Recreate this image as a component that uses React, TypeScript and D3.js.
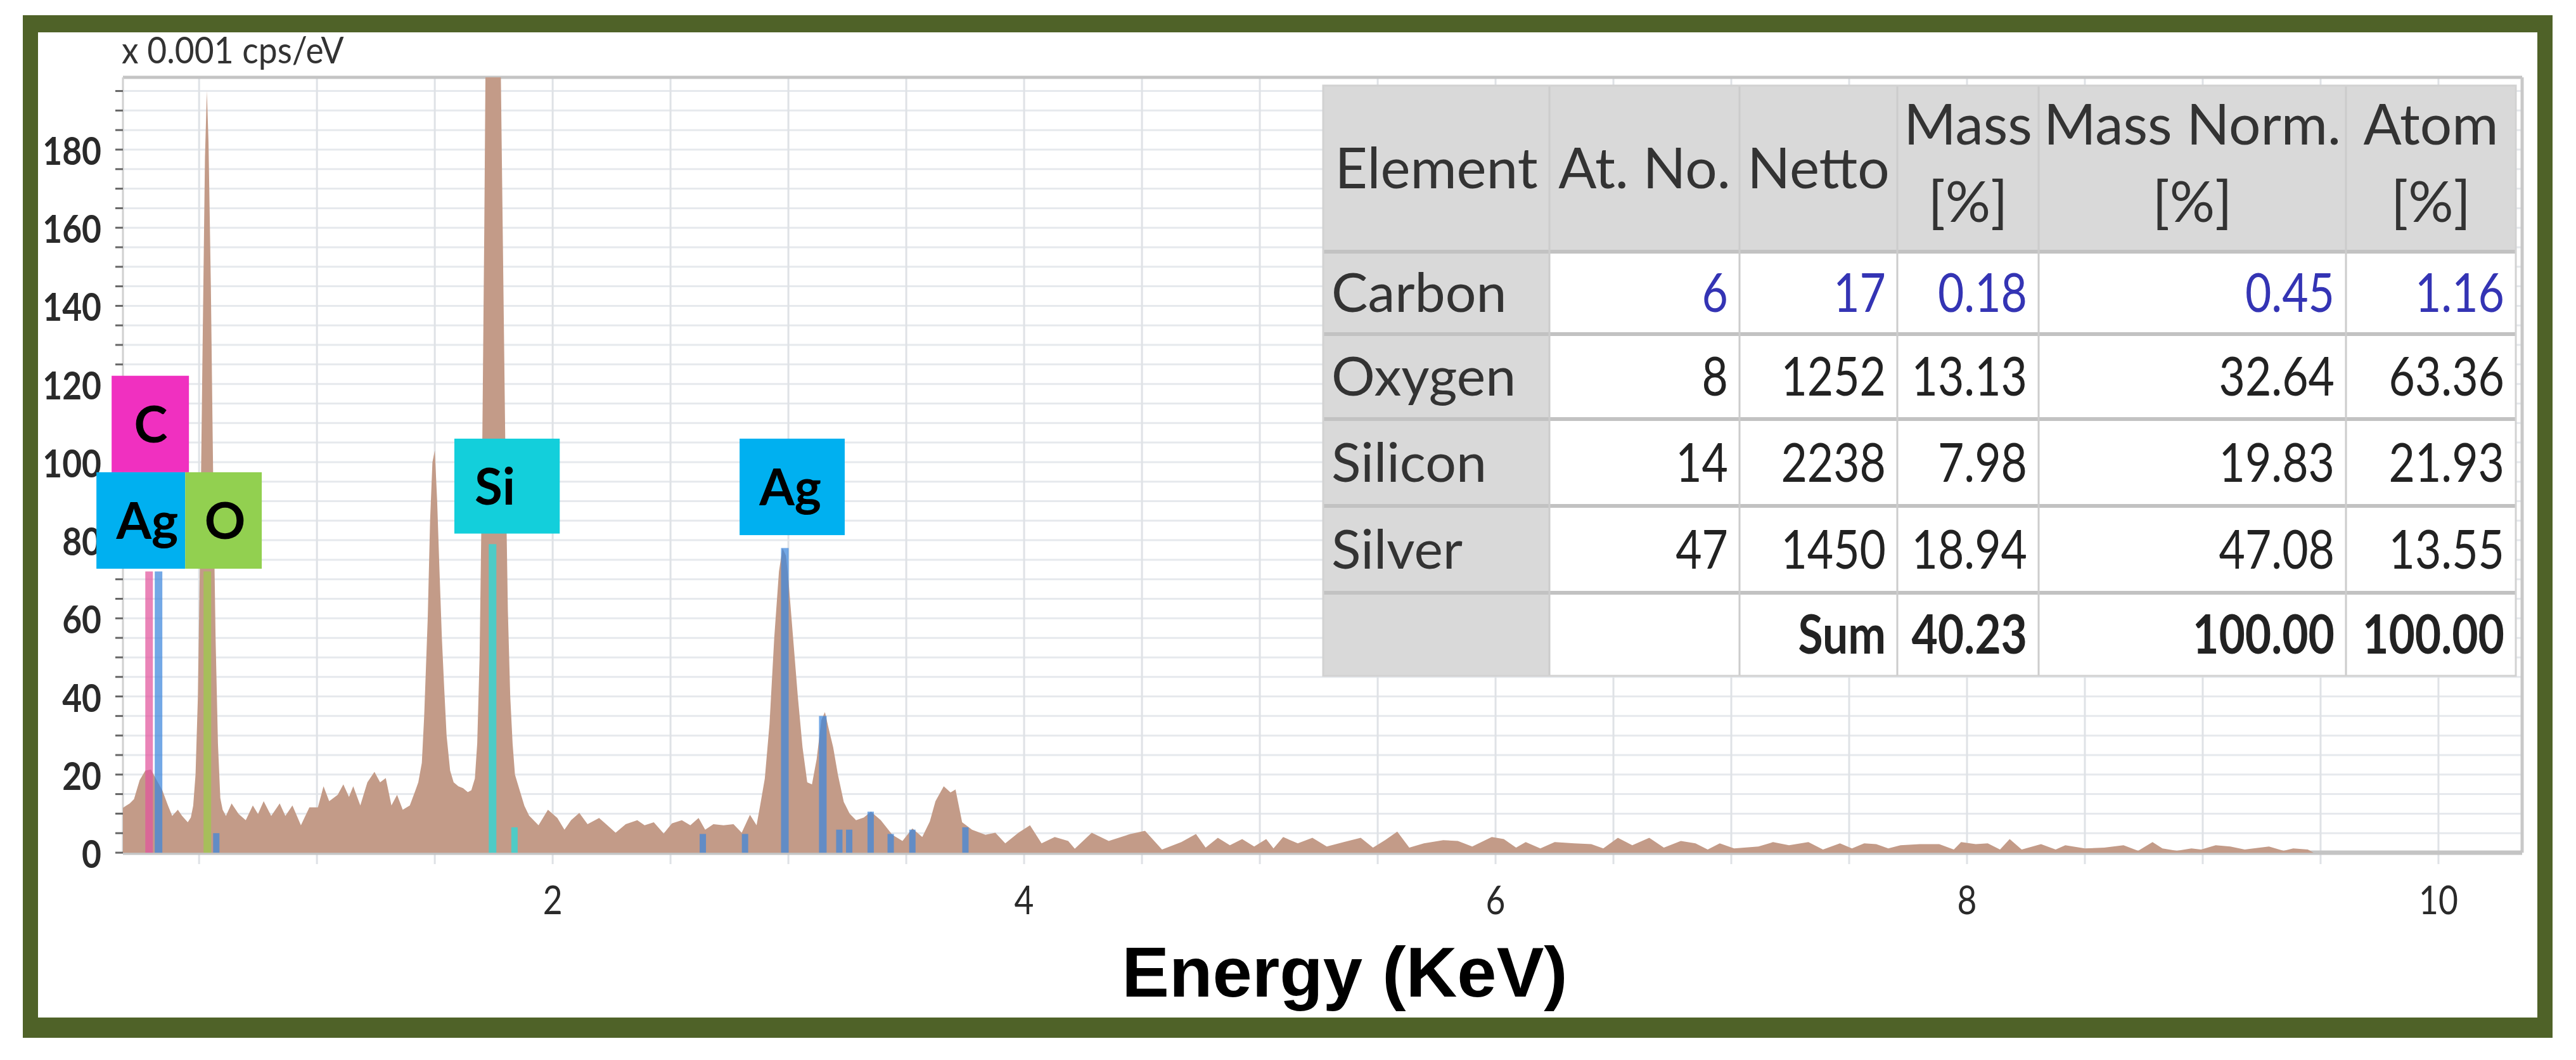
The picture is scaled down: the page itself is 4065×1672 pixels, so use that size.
import React from "react";
import * as d3 from "d3";

// ---------- DATA ----------
// EDS spectrum [energy keV, counts x0.001 cps/eV]
const spectrum: [number, number][] = [
  [0.177, 11.5], [0.19, 12], [0.206, 12.6], [0.224, 13.7], [0.248, 18.6], [0.272, 21], [0.296, 21.3], [0.32, 18.6],
  [0.344, 16], [0.368, 12.1], [0.386, 9.4], [0.41, 11], [0.428, 9.4], [0.452, 7.8], [0.465, 9],
  [0.475, 12], [0.485, 20], [0.495, 40], [0.505, 80], [0.515, 130], [0.525, 178], [0.533, 195], [0.54, 182],
  [0.55, 145], [0.56, 95], [0.57, 55], [0.58, 28], [0.59, 14],
  [0.6, 11], [0.614, 9.4], [0.638, 12.6], [0.668, 9.9], [0.698, 8.3], [0.728, 12.1], [0.75, 9.9], [0.774, 13.2],
  [0.806, 9.4], [0.842, 12.6], [0.866, 9.4], [0.896, 12.1], [0.932, 7], [0.968, 11.6], [1.004, 11.6], [1.028, 17],
  [1.052, 13.2], [1.088, 14.8], [1.112, 17.5], [1.136, 14.3], [1.154, 17], [1.184, 12.1], [1.214, 18], [1.244, 20.7],
  [1.268, 18], [1.292, 19.1], [1.316, 12.1], [1.34, 14.8], [1.364, 11], [1.394, 12.1], [1.418, 16],
  [1.43, 18], [1.445, 23], [1.455, 35], [1.47, 60], [1.48, 85], [1.49, 100], [1.5, 103], [1.51, 90], [1.52, 72],
  [1.53, 55], [1.54, 42], [1.55, 30], [1.565, 21], [1.58, 18], [1.6, 17], [1.62, 16.5], [1.64, 15.5],
  [1.655, 16], [1.67, 19], [1.68, 28], [1.69, 50], [1.7, 95], [1.71, 160], [1.72, 240], [1.73, 300], [1.74, 330],
  [1.75, 320], [1.76, 290], [1.77, 240], [1.78, 200], [1.79, 150], [1.8, 100], [1.81, 62], [1.82, 40], [1.83, 28],
  [1.84, 20], [1.86, 16], [1.88, 12], [1.9, 9.5], [1.94, 7], [1.98, 11],
  [2.02, 8.9], [2.05, 5.9], [2.078, 8.3], [2.113, 10.2], [2.148, 7.3], [2.197, 8.9], [2.232, 7], [2.267, 5.1],
  [2.31, 7.3], [2.359, 8.3], [2.39, 7], [2.429, 7.8], [2.471, 4.9], [2.506, 7.5], [2.548, 8.3], [2.584, 7],
  [2.619, 8.9], [2.647, 5.9], [2.682, 7.3], [2.725, 7], [2.767, 7.3], [2.802, 5.1], [2.837, 9.7], [2.865, 7],
  [2.88, 12], [2.9, 19], [2.92, 33], [2.94, 55], [2.96, 72], [2.975, 78], [2.99, 76], [3.0, 70], [3.02, 55],
  [3.04, 40], [3.06, 27], [3.08, 18], [3.1, 17.5], [3.12, 24], [3.14, 34], [3.155, 36], [3.17, 32], [3.19, 27],
  [3.21, 20], [3.235, 13], [3.26, 10], [3.287, 8.3], [3.32, 9], [3.35, 10.5], [3.392, 8.3], [3.441, 4.6],
  [3.484, 3], [3.526, 6.2], [3.568, 4], [3.6, 8], [3.624, 13.2], [3.659, 17], [3.688, 15.4], [3.709, 16.2],
  [3.737, 7.8], [3.779, 5.9], [3.836, 4.6], [3.878, 5.1], [3.92, 2.4], [3.976, 5.1], [4.025, 7], [4.074, 2.4],
  [4.13, 4], [4.187, 3],
  [4.215, 1], [4.287, 5.1], [4.359, 3], [4.451, 4.8], [4.513, 5.6], [4.585, 0.8], [4.667, 2.7], [4.729, 4.8],
  [4.77, 1.3], [4.822, 3.8], [4.873, 1.9], [4.925, 3.5], [4.976, 1.6], [5.027, 3.5], [5.058, 1.1], [5.099, 4],
  [5.161, 2.4], [5.223, 3.8], [5.284, 1.6], [5.356, 2.7], [5.428, 3.8], [5.48, 1.3], [5.531, 3.2], [5.583, 5.4],
  [5.634, 1.3], [5.696, 2.4], [5.778, 3.2], [5.84, 3], [5.901, 1.6], [5.984, 4], [6.035, 3.5], [6.087, 1.3],
  [6.128, 2.7], [6.19, 1.1], [6.251, 2.7], [6.334, 2.4], [6.406, 2.2], [6.457, 1.1], [6.519, 3.8], [6.58, 1.9],
  [6.652, 3.8], [6.714, 1.3], [6.786, 3], [6.848, 2.4], [6.9, 0.8], [6.951, 2.4], [7.012, 1.1], [7.115, 1.6],
  [7.177, 2.7], [7.245, 1.9], [7.327, 2.7], [7.389, 0.8], [7.461, 2.4], [7.512, 1.1], [7.564, 2.4], [7.615, 2.2],
  [7.666, 1.1], [7.718, 1.9], [7.8, 2.2], [7.882, 2.2], [7.944, 0.8], [7.975, 2.7], [8.037, 2.2], [8.088, 2.4],
  [8.14, 0.8], [8.181, 3.5], [8.232, 0.8], [8.314, 2.2], [8.376, 0.8], [8.417, 1.9], [8.5, 1.1], [8.582, 1.3],
  [8.664, 1.9], [8.726, 0.5], [8.787, 2.7], [8.829, 1.1], [8.89, 0.5], [8.952, 1.1], [8.993, 0.8], [9.055, 1.9],
  [9.117, 1.6], [9.178, 0.8], [9.281, 1.6], [9.343, 0.5], [9.384, 1.1], [9.446, 0.8], [9.47, 0], [10.355, 0],
];

// Element marker lines: element, energy (keV), height
const markerElement = ["C", "Ag", "O", "Ag", "Si", "Si", "Ag", "Ag", "Ag", "Ag", "Ag", "Ag", "Ag", "Ag", "Ag", "Ag"];
const markerEnergy = [0.288, 0.328, 0.535, 0.573, 1.745, 1.838, 2.637, 2.816, 2.985, 3.146, 3.216, 3.258, 3.349, 3.434, 3.526, 3.751];
const markerHeight = [72, 72, 72, 5, 79, 6.5, 4.8, 4.8, 78, 35, 5.9, 5.9, 10.5, 4.8, 5.9, 6.5];

// Element label boxes (data units)
const labelText = ["C", "Ag", "O", "Si", "Ag"];
const labelE0 = [0.129, 0.0645, 0.441, 1.583, 2.793];
const labelE1 = [0.457, 0.441, 0.766, 2.03, 3.239];
const labelTop = [122.1, 97.4, 97.4, 106, 106];
const labelBottom = [97.4, 72.7, 72.7, 81.7, 81.3];
const labelTextE = [0.295, 0.28, 0.61, 1.755, 3.008];

const elementColor: Record<string, string> = { C: "#f030c0", Ag: "#00b0f0", O: "#92d050", Si: "#13cfdb" };
const lineColor: Record<string, string> = { C: "#e2559c", Ag: "#3d86dc", O: "#9ccc4a", Si: "#22dede" };

const xTickLabels = [2, 4, 6, 8, 10];
const yTickLabels = [0, 20, 40, 60, 80, 100, 120, 140, 160, 180];

// Quantification table
const tableHeaders = [["Element"], ["At. No."], ["Netto"], ["Mass", "[%]"], ["Mass Norm.", "[%]"], ["Atom", "[%]"]];
const elements = ["Carbon", "Oxygen", "Silicon", "Silver"];
const atNo = ["6", "8", "14", "47"];
const netto = ["17", "1252", "2238", "1450"];
const massPct = ["0.18", "13.13", "7.98", "18.94"];
const massNormPct = ["0.45", "32.64", "19.83", "47.08"];
const atomPct = ["1.16", "63.36", "21.93", "13.55"];
const sumRow = ["", "", "Sum", "40.23", "100.00", "100.00"];

// ---------- LAYOUT ----------
const W = 4065, H = 1672;
const PL = 194, PR = 3980, PT = 122, PB = 1345;
const FONT = "Lato, 'Open Sans', sans-serif";

function NText(props: {
  x: number; y: number; sx?: number; anchor?: string; size: number; fill: string; weight?: string; children: any;
}) {
  const { x, y, sx = 0.84, anchor = "start", size, fill, weight = "normal", children } = props;
  return (
    <text transform={`translate(${x},${y}) scale(${sx},1)`} textAnchor={anchor} fontFamily={FONT}
      fontSize={size} fill={fill} fontWeight={weight}>{children}</text>
  );
}

export default function App() {
  const x = d3.scaleLinear().domain([0.177, 10.355]).range([PL, PR]);
  const y = d3.scaleLinear().domain([0, 198.5]).range([PB, PT]);
  const area = d3.area<[number, number]>().x((d) => x(d[0])).y0(y(0)).y1((d) => y(d[1]));

  const hGrid = d3.range(5, 198, 5);
  const vGrid = d3.range(0.5, 10.01, 0.5);
  const yMinor = d3.range(0, 198, 5);

  const colX = [2088, 2445, 2745, 2994, 3217, 3702, 3970];
  const rowY = [135, 397, 527, 661, 798, 935, 1066];
  const rows = elements.map((e, i) => [e, atNo[i], netto[i], massPct[i], massNormPct[i], atomPct[i]]);
  const TF = 86;
  const HF = 89;

  return (
    <svg width={W} height={H} style={{ position: "absolute", left: 0, top: 0 }} xmlns="http://www.w3.org/2000/svg">
      <rect x={0} y={0} width={W} height={H} fill="#ffffff" />
      {/* frame */}
      <rect x={36} y={24} width={3992} height={1613} fill="#4f6228" />
      <rect x={60} y={51} width={3944} height={1554} fill="#ffffff" />

      <defs>
        <clipPath id="plotClip">
          <rect x={PL} y={PT} width={PR - PL} height={PB - PT} />
        </clipPath>
      </defs>

      {/* grid */}
      {hGrid.map((v) => (
        <line key={"h" + v} x1={PL} x2={PR} y1={y(v)} y2={y(v)} stroke="#e6e9ed" strokeWidth={3} />
      ))}
      {vGrid.map((e) => (
        <line key={"v" + e} x1={x(e)} x2={x(e)} y1={PT} y2={PB + 18} stroke="#dfe2e6" strokeWidth={3} />
      ))}

      {/* plot border */}
      <line x1={PL} x2={PR} y1={PT} y2={PT} stroke="#c4c4c4" strokeWidth={5} />
      <line x1={PR} x2={PR} y1={PT} y2={PB} stroke="#c8c8c8" strokeWidth={5} />
      <line x1={PL} x2={PL} y1={PT} y2={PB} stroke="#d0d0d0" strokeWidth={3} />
      <line x1={PL} x2={PR} y1={PB} y2={PB} stroke="#c4c4c4" strokeWidth={7} />

      {/* spectrum */}
      <g clipPath="url(#plotClip)">
        <path d={area(spectrum) || ""} fill="#c39b88" />
        {markerEnergy.map((e, i) => (
          <rect
            key={"m" + i}
            x={x(e) - (markerHeight[i] > 20 ? 6 : 5)}
            width={markerHeight[i] > 20 ? 12 : 10}
            y={y(markerHeight[i])}
            height={y(0) - y(markerHeight[i])}
            fill={lineColor[markerElement[i]]}
            opacity={0.72}
          />
        ))}
      </g>

      {/* y ticks */}
      {yMinor.map((v) => (
        <line key={"yt" + v} x1={PL - 12} x2={PL} y1={y(v)} y2={y(v)} stroke="#666" strokeWidth={3} />
      ))}
      {yTickLabels.map((v) => (
        <NText key={"yl" + v} x={160} y={y(v) + 24} anchor="end" sx={0.86} size={62} fill="#2a2a2a" weight="bold">{v}</NText>
      ))}
      {xTickLabels.map((e) => (
        <NText key={"xl" + e} x={x(e)} y={1442} anchor="middle" sx={0.86} size={62} fill="#2a2a2a">{e}</NText>
      ))}
      <NText x={192} y={100} sx={0.92} size={58} fill="#333">x 0.001 cps/eV</NText>
      <text x={2122} y={1572} textAnchor="middle" fontFamily="'Liberation Sans', Arial, sans-serif"
        fontWeight="bold" fontSize={112} fill="#000">Energy (KeV)</text>

      {/* label boxes */}
      {labelText.map((t, i) => (
        <g key={"lb" + i}>
          <rect x={x(labelE0[i])} y={y(labelTop[i])} width={x(labelE1[i]) - x(labelE0[i])}
            height={y(labelBottom[i]) - y(labelTop[i])} fill={elementColor[t]} />
          <text x={x(labelTextE[i])} y={(y(labelTop[i]) + y(labelBottom[i])) / 2 + 29} textAnchor="middle"
            fontFamily={FONT} fontWeight="bold" fontSize={80} fill="#000">{t}</text>
        </g>
      ))}

      {/* table */}
      <g>
        <rect x={colX[0]} y={rowY[0]} width={colX[6] - colX[0]} height={rowY[6] - rowY[0]} fill="#fff" />
        <rect x={colX[0]} y={rowY[0]} width={colX[6] - colX[0]} height={rowY[1] - rowY[0]} fill="#d9d9d9" />
        <rect x={colX[0]} y={rowY[1]} width={colX[1] - colX[0]} height={rowY[6] - rowY[1]} fill="#d9d9d9" />
        {rowY.slice(1, 6).map((ry, i) => (
          <line key={"tr" + i} x1={colX[0]} x2={colX[6]} y1={ry} y2={ry} stroke="#c2c2c2" strokeWidth={6} />
        ))}
        {colX.slice(1, 6).map((cx, i) => (
          <line key={"tc" + i} x1={cx} x2={cx} y1={rowY[0]} y2={rowY[6]} stroke="#cccccc" strokeWidth={3} />
        ))}
        <rect x={colX[0]} y={rowY[0]} width={colX[6] - colX[0]} height={rowY[6] - rowY[0]} fill="none"
          stroke="#d2d2d2" strokeWidth={3} />
        {tableHeaders.map((h, c) => {
          const cx = (colX[c] + colX[c + 1]) / 2;
          const cy = (rowY[0] + rowY[1]) / 2;
          if (h.length === 1)
            return (
              <text key={"th" + c} x={cx} y={cy + 31} textAnchor="middle" fontFamily={FONT} fontSize={HF} fill="#333">{h[0]}</text>
            );
          return (
            <g key={"th" + c}>
              <text x={cx} y={228} textAnchor="middle" fontFamily={FONT} fontSize={HF} fill="#333">{h[0]}</text>
              <text x={cx} y={350} textAnchor="middle" fontFamily={FONT} fontSize={HF} fill="#333">{h[1]}</text>
            </g>
          );
        })}
        {rows.map((r, ri) => {
          const cy = (rowY[ri + 1] + rowY[ri + 2]) / 2 + 30;
          return r.map((val, c) =>
            c === 0 ? (
              <text key={"td" + ri + c} x={colX[0] + 13} y={cy} fontFamily={FONT} fontSize={TF} fill="#333">{val}</text>
            ) : (
              <NText key={"td" + ri + c} x={colX[c + 1] - 18} y={cy} anchor="end" sx={0.83} size={TF}
                fill={ri === 0 ? "#3434b4" : "#222"}>{val}</NText>
            )
          );
        })}
        {sumRow.map((val, c) =>
          val ? (
            <NText key={"sum" + c} x={colX[c + 1] - 18} y={(rowY[5] + rowY[6]) / 2 + 30} anchor="end" sx={0.83}
              weight="bold" size={TF} fill="#222">{val}</NText>
          ) : null
        )}
      </g>
    </svg>
  );
}
